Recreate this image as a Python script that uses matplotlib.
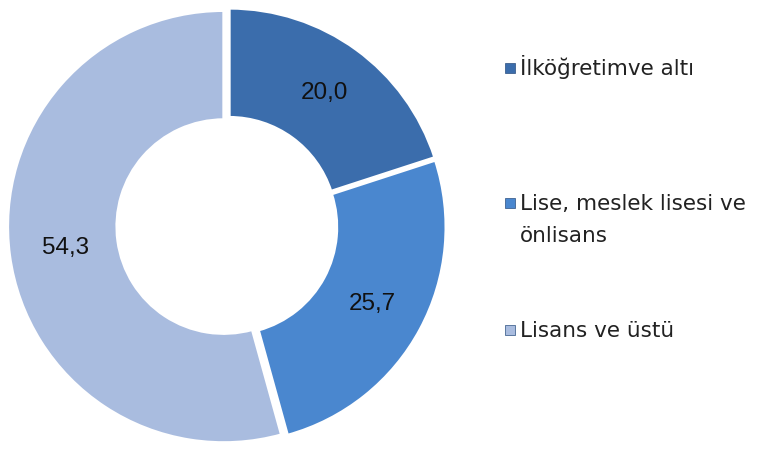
import numpy as np
import matplotlib
matplotlib.use("Agg")
import matplotlib.pyplot as plt

categories = ["İlköğretimve altı", "Lise, meslek lisesi ve\nönlisans", "Lisans ve üstü"]
values = [20.0, 25.7, 54.3]
value_labels = ["20,0", "25,7", "54,3"]
colors = ["#3b6dac", "#4a87cf", "#a9bcdf"]

plt.rcParams["font.family"] = ["Liberation Sans", "DejaVu Sans"]

fig = plt.figure(figsize=(7.74, 4.51), dpi=100)
W, H = 774, 451
cx, cy, r = 228, 226, 216
ax = fig.add_axes([(cx - r) / W, (H - cy - r) / H, 2 * r / W, 2 * r / H])

wedges, _ = ax.pie(values, colors=colors, startangle=90, counterclock=False,
                   explode=[0.01, 0.01, 0.02],
                   wedgeprops=dict(width=0.505, edgecolor="white", linewidth=2))
ax.set_xlim(-1, 1)
ax.set_ylim(-1, 1)
ax.set_aspect("equal")
ax.axis("off")

for w, txt in zip(wedges, value_labels):
    mid = np.deg2rad((w.theta1 + w.theta2) / 2)
    ax.text(0.76 * np.cos(mid), 0.76 * np.sin(mid), txt, ha="center", va="center",
            fontsize=17.5, color="#111111")

# legend: marker square + label lines (baselines in pixels from top)
legend_baseline = [75, 210, 337]
line_step = 32
for y, lab, c in zip(legend_baseline, categories, colors):
    fig.patches.append(plt.Rectangle((505 / W, 1 - (y - 2) / H), 10 / W, 10 / H,
                                     transform=fig.transFigure, facecolor=c,
                                     edgecolor="#2a4f80", linewidth=0.5))
    for i, line in enumerate(lab.split("\n")):
        fig.text(520 / W, 1 - (y + i * line_step) / H, line,
                 ha="left", va="baseline", fontsize=15.5, color="#222222",
                 family=["DejaVu Sans"])

fig.savefig("out.png", dpi=100, facecolor="white")
